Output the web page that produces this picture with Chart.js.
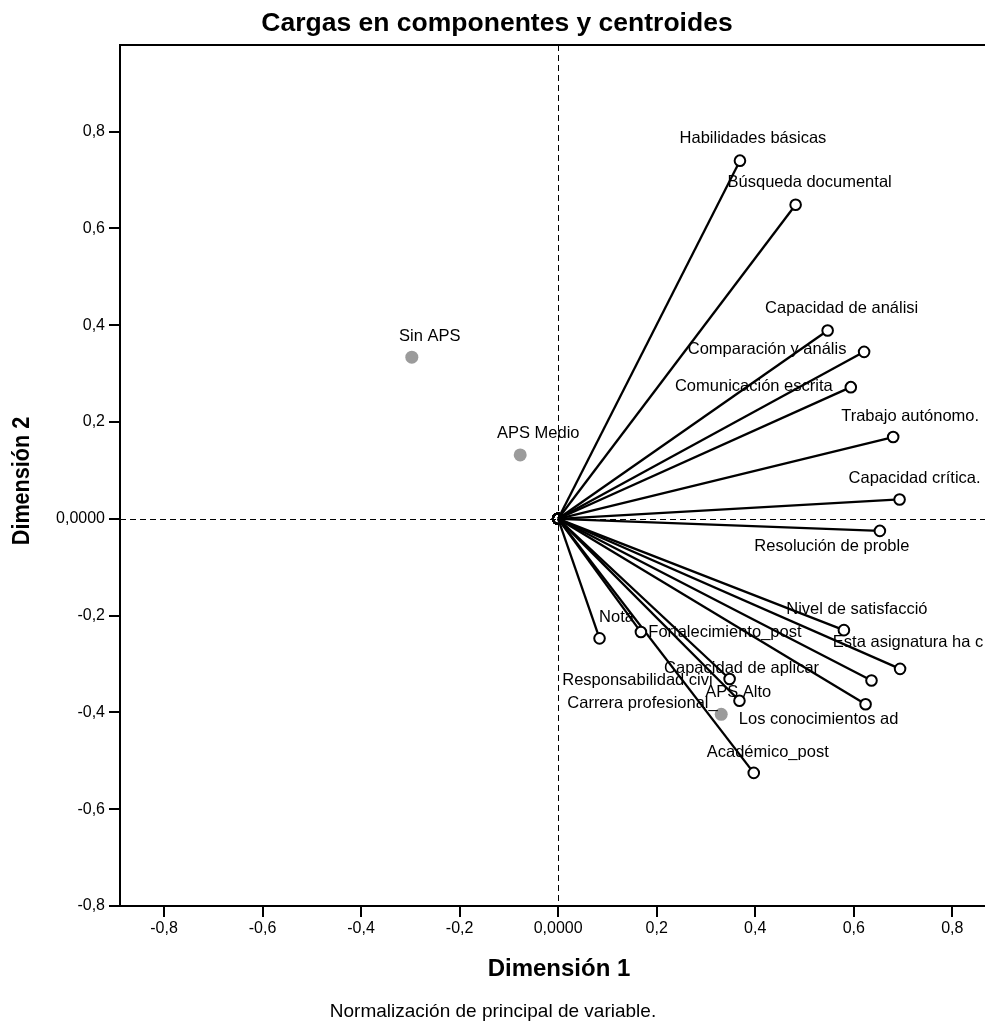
<!DOCTYPE html>
<html>
<head>
<meta charset="utf-8">
<script src="https://cdn.jsdelivr.net/npm/chart.js@4/dist/chart.umd.min.js"></script>
<style>
  html, body { margin: 0; padding: 0; background: #fff; overflow: hidden; }
  #wrap { width: 985px; height: 1025px; position: relative; overflow: hidden; }
  canvas { display: block; }
</style>
</head>
<body>
<div id="wrap"><canvas id="c" width="993" height="1025"></canvas></div>
<script>
// Component loadings of each variable (dimension 1, dimension 2)
const variableNames = [
  'Habilidades básicas', 'Búsqueda documental', 'Capacidad de análisi',
  'Comparación y anális', 'Comunicación escrita', 'Trabajo autónomo.',
  'Capacidad crítica.', 'Resolución de proble', 'Nota',
  'Fortalecimiento_post', 'Nivel de satisfacció', 'Esta asignatura ha c',
  'Capacidad de aplicar', 'Responsabilidad civi', 'Carrera profesional_',
  'Los conocimientos ad', 'Académico_post'
];
const dim1Loadings = [0.369, 0.482, 0.547, 0.621, 0.594, 0.680, 0.693, 0.653, 0.084,
                      0.168, 0.580, 0.694, 0.348, 0.368, 0.636, 0.624, 0.397];
const dim2Loadings = [0.740, 0.649, 0.389, 0.345, 0.272, 0.169, 0.040, -0.025, -0.247,
                      -0.234, -0.230, -0.310, -0.331, -0.376, -0.334, -0.383, -0.525];

// Group centroids
const centroidNames = ['Sin APS', 'APS Medio', 'APS Alto'];
const centroidDim1 = [-0.297, -0.077, 0.331];
const centroidDim2 = [0.334, 0.132, -0.404];

// Axis tick values
const axisTicks = [-0.8, -0.6, -0.4, -0.2, 0, 0.2, 0.4, 0.6, 0.8];

// Label placement relative to each marker (pixels, text centre)
const variableLabelShift = [
  [13, -22], [14, -22], [14, -22], [-97, -2], [-97, -1], [17, -21],
  [15, -21], [-48, 16], [17, -21], [84, 0], [13, -21], [8, -26],
  [12, -11], [-102, -20], [-229, 23], [-47, 15], [14, -20]
];
const centroidLabelShift = [[18, -21], [18, -21], [17, -22]];

const FONT = "'Liberation Sans', Arial, Helvetica, sans-serif";

const fmtTick = v => (Math.abs(v) < 1e-9 ? '0,0000' : v.toFixed(1).replace('.', ','));

const datasets = variableNames.map((name, i) => ({
  label: name,
  data: [{ x: 0, y: 0 }, { x: dim1Loadings[i], y: dim2Loadings[i] }],
  showLine: true,
  borderColor: '#000',
  borderWidth: 2.3,
  pointRadius: 5.3,
  pointBorderWidth: 2,
  pointBorderColor: '#000',
  pointBackgroundColor: ['rgba(0,0,0,0)', '#fff'],
  pointHoverRadius: 5.3
}));
datasets.push({
  label: 'centroides',
  data: centroidNames.map((n, i) => ({ x: centroidDim1[i], y: centroidDim2[i] })),
  showLine: false,
  pointRadius: 6.5,
  pointBorderWidth: 0,
  pointBackgroundColor: '#9b9b9b',
  pointBorderColor: '#9b9b9b'
});

// Dashed reference lines through the origin and the top frame line
const referenceLines = {
  id: 'referenceLines',
  beforeDatasetsDraw(chart) {
    const { ctx, chartArea: a, scales: { x, y } } = chart;
    const x0 = x.getPixelForValue(0), y0 = y.getPixelForValue(0);
    ctx.save();
    ctx.strokeStyle = '#000';
    ctx.lineWidth = 1;
    ctx.setLineDash([6, 4]);
    ctx.beginPath();
    ctx.moveTo(Math.round(x0) + 0.5, a.top);
    ctx.lineTo(Math.round(x0) + 0.5, a.bottom);
    ctx.moveTo(a.left, Math.round(y0) + 0.5);
    ctx.lineTo(a.right, Math.round(y0) + 0.5);
    ctx.stroke();
    ctx.setLineDash([]);
    ctx.lineWidth = 2;
    ctx.beginPath();
    ctx.moveTo(a.left - 1, a.top);
    ctx.lineTo(a.right + 2, a.top);
    ctx.stroke();
    ctx.restore();
  }
};

// Marker labels, titles and footnote
const textLayer = {
  id: 'textLayer',
  afterDatasetsDraw(chart) {
    const { ctx } = chart;
    ctx.save();
    ctx.fillStyle = '#000';
    ctx.font = '16.5px ' + FONT;
    ctx.textAlign = 'center';
    ctx.textBaseline = 'middle';
    variableNames.forEach((name, i) => {
      const p = chart.getDatasetMeta(i).data[1];
      const [dx, dy] = variableLabelShift[i];
      ctx.fillText(name, p.x + dx, p.y + dy);
    });
    const cMeta = chart.getDatasetMeta(variableNames.length);
    centroidNames.forEach((name, i) => {
      const p = cMeta.data[i];
      const [dx, dy] = centroidLabelShift[i];
      ctx.fillText(name, p.x + dx, p.y + dy);
    });
    ctx.restore();
  },
  afterDraw(chart) {
    const { ctx } = chart;
    ctx.save();
    ctx.fillStyle = '#000';
    ctx.textAlign = 'center';
    ctx.textBaseline = 'alphabetic';
    ctx.font = 'bold 26.5px ' + FONT;
    ctx.fillText('Cargas en componentes y centroides', 497, 31);
    ctx.font = 'bold 24px ' + FONT;
    ctx.fillText('Dimensión 1', 559, 976);
    ctx.font = '19px ' + FONT;
    ctx.fillText('Normalización de principal de variable.', 493, 1017);
    ctx.translate(22, 481);
    ctx.rotate(-Math.PI / 2);
    ctx.scale(0.9, 1);
    ctx.textBaseline = 'middle';
    ctx.font = 'bold 24px ' + FONT;
    ctx.fillText('Dimensión 2', 0, 0);
    ctx.restore();
  }
};

const axisCommon = {
  type: 'linear',
  afterBuildTicks: s => { s.ticks = axisTicks.map(v => ({ value: v })); },
  grid: {
    drawOnChartArea: false,
    drawTicks: true,
    tickLength: 11,
    color: '#000',
    lineWidth: 2
  },
  border: { display: true, color: '#000', width: 2 }
};

new Chart(document.getElementById('c'), {
  type: 'scatter',
  data: { datasets },
  options: {
    responsive: false,
    animation: false,
    devicePixelRatio: 1,
    layout: { padding: { top: 45, right: 0, left: 0, bottom: 0 } },
    plugins: { legend: { display: false }, tooltip: { enabled: false }, title: { display: false } },
    scales: {
      x: {
        ...axisCommon,
        min: -0.8893,
        max: 0.8678,
        afterFit: s => { s.height = 119; },
        ticks: { color: '#000', font: { size: 16, family: FONT }, padding: 2, maxRotation: 0, autoSkip: false, callback: fmtTick }
      },
      y: {
        ...axisCommon,
        min: -0.8,
        max: 0.979,
        afterFit: s => { s.width = 120; },
        ticks: { color: '#000', font: { size: 16, family: FONT }, padding: 4, autoSkip: false, callback: fmtTick }
      }
    }
  },
  plugins: [referenceLines, textLayer]
});
</script>
</body>
</html>
